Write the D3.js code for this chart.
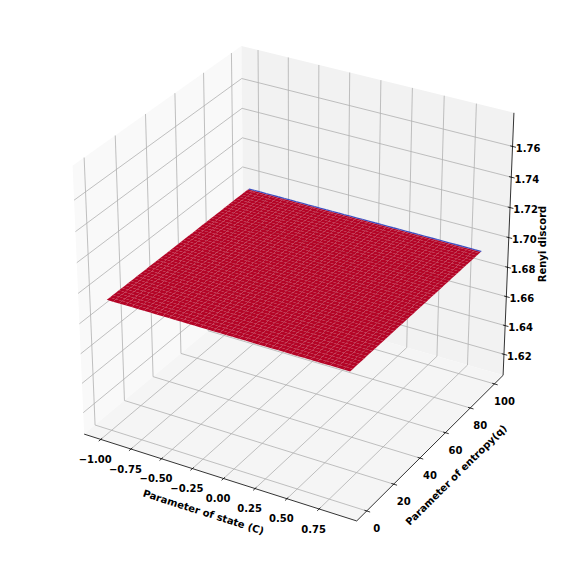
<!DOCTYPE html>
<html><head><meta charset="utf-8">
<script src="https://cdnjs.cloudflare.com/ajax/libs/d3/7.8.5/d3.min.js"></script>
<style>html,body{margin:0;padding:0;background:#fff}svg{display:block}text{font-family:"DejaVu Sans",sans-serif;font-weight:bold;fill:#000}</style>
</head><body><svg id="c" width="579" height="565"></svg>
<script>
const cValues=[-1,-0.95,-0.9,-0.85,-0.8,-0.75,-0.7,-0.65,-0.6,-0.55,-0.5,-0.45,-0.4,-0.35,-0.3,-0.25,-0.2,-0.15,-0.1,-0.05,0,0.05,0.1,0.15,0.2,0.25,0.3,0.35,0.4,0.45,0.5,0.55,0.6,0.65,0.7,0.75,0.8,0.85,0.9];
const qValues=[0,2,4,6,8,10,12,14,16,18,20,22,24,26,28,30,32,34,36,38,40,42,44,46,48,50,52,54,56,58,60,62,64,66,68,70,72,74,76,78,80,82,84,86,88,90,92,94,96,98,99,100];
const renyiByQ=qValues.map(q=>q<100?1.6934:1.69339); // flat surface; the last row sits a hair lower
const xTicks=[-1,-0.75,-0.5,-0.25,0,0.25,0.5,0.75];
const xTickLabels=["−1.00","−0.75","−0.50","−0.25","0.00","0.25","0.50","0.75"];
const yTicks=[0,20,40,60,80,100];
const yTickLabels=["0","20","40","60","80","100"];
const zTicks=[1.62,1.64,1.66,1.68,1.70,1.72,1.74,1.76];
const zTickLabels=["1.62","1.64","1.66","1.68","1.70","1.72","1.74","1.76"];
const xTitle="Parameter of state (C)",yTitle="Parameter of entropy(q)",zTitle="Renyi discord";

const svg=d3.select("#c");
const pad=(a,b,m)=>[a-(b-a)*m,b+(b-a)*m];
const xLim=pad(d3.min(cValues),d3.max(cValues),0.05);
const yLim=pad(d3.min(qValues),d3.max(qValues),0.05);
const zMid=d3.max(renyiByQ);
const zLim=[zMid*0.95,zMid*1.05];
const wx=d3.scaleLinear().domain(xLim).range([0,1]);
const wy=d3.scaleLinear().domain(yLim).range([0,1]);
const wz=d3.scaleLinear().domain(zLim).range([0,1]);
const u=[0.8660254,0.5,0],v=[-0.25,0.4330127,0.8660254],n=[0.4330127,-0.75,0.5];
const dot=(a,b)=>a[0]*b[0]+a[1]*b[1]+a[2]*b[2];
const sx=d3.scaleLinear().domain([0,1]).range([297,297+3020]);
const sy=d3.scaleLinear().domain([0,1]).range([275,275-2940]);
function proj(p){const d=[p[0]-.5,p[1]-.5,p[2]-.5],k=10-dot(n,d);return [sx(dot(u,d)/k),sy(dot(v,d)/k)];}
const lo=-1/48,hi=49/48;
const line=d3.line();
const path=(pts,close)=>line(pts.map(proj))+(close?"Z":"");
const panes=[
 {f:"#f9f9f9",p:[[lo,lo,lo],[lo,hi,lo],[lo,hi,hi],[lo,lo,hi]]},
 {f:"#f2f2f2",p:[[lo,hi,lo],[hi,hi,lo],[hi,hi,hi],[lo,hi,hi]]},
 {f:"#f5f5f5",p:[[lo,lo,lo],[hi,lo,lo],[hi,hi,lo],[lo,hi,lo]]}];
svg.append("g").selectAll("path").data(panes).join("path").attr("d",d=>path(d.p,true)).attr("fill",d=>d.f);
const grid=svg.append("g").attr("fill","none").attr("stroke","#b0b0b0").attr("stroke-width",0.8);
xTicks.forEach(t=>{const a=wx(t);grid.append("path").attr("d",path([[a,lo,lo],[a,hi,lo],[a,hi,hi]]));});
yTicks.forEach(t=>{const a=wy(t);grid.append("path").attr("d",path([[hi,a,lo],[lo,a,lo],[lo,a,hi]]));});
zTicks.forEach(t=>{const a=wz(t);grid.append("path").attr("d",path([[lo,lo,a],[lo,hi,a],[hi,hi,a]]));});
const ax=svg.append("g").attr("fill","none").attr("stroke","#000").attr("stroke-width",0.8);
ax.append("path").attr("d",path([[lo,lo,lo],[hi,lo,lo]]));
ax.append("path").attr("d",path([[hi,lo,lo],[hi,hi,lo]]));
ax.append("path").attr("d",path([[hi,hi,lo],[hi,hi,hi]]));
const tOut=0.0125,tIn=0.0085;
const labels=svg.append("g").attr("font-size",10).attr("text-anchor","middle");
function tl(x,y,s){labels.append("text").attr("x",x).attr("y",y).attr("dy","0.36em").text(s);}
xTicks.forEach((t,i)=>{const a=wx(t);ax.append("path").attr("d",path([[a,lo-tOut,lo],[a,lo+tIn,lo]]));const q=proj([a,lo,lo]);tl(q[0]-5.5,q[1]+20,xTickLabels[i]);});
yTicks.forEach((t,i)=>{const a=wy(t);ax.append("path").attr("d",path([[hi+tOut,a,lo],[hi-tIn,a,lo]]));const q=proj([hi,a,lo]);tl(q[0]+10,q[1]+17.5,yTickLabels[i]);});
zTicks.forEach((t,i)=>{const a=wz(t);ax.append("path").attr("d",path([[hi+tOut,hi,a],[hi-tIn,hi,a]]));const q=proj([hi,hi,a]);tl(q[0]+15.5,q[1]+2,zTickLabels[i]);});
function title(x,y,r,s){labels.append("text").attr("transform",`translate(${x},${y}) rotate(${r})`).attr("dy","0.36em").text(s);}
title(203.5,512,17.7,xTitle);
title(456,475,-44.8,yTitle);
title(542,244,-90,zTitle);
const cells=[];
for(let j=qValues.length-2;j>=0;j--)for(let i=0;i<cValues.length-1;i++){
 const P=(a,b)=>[wx(cValues[a]),wy(qValues[b]),wz(renyiByQ[b])];
 cells.push({p:[P(i,j),P(i+1,j),P(i+1,j+1),P(i,j+1)],z:(renyiByQ[j]+renyiByQ[j+1])/2});
}
const zE=d3.extent(cells,d=>d.z);
const color=d3.scaleLinear().domain([zE[0],(zE[0]+zE[1])/2,zE[1]]).range(["#3b4cc0","#dddddd","#b40426"]);
svg.append("g").selectAll("path").data(cells).join("path").attr("d",d=>path(d.p,true)).attr("fill",d=>color(d.z)).attr("stroke","none");
</script></body></html>
